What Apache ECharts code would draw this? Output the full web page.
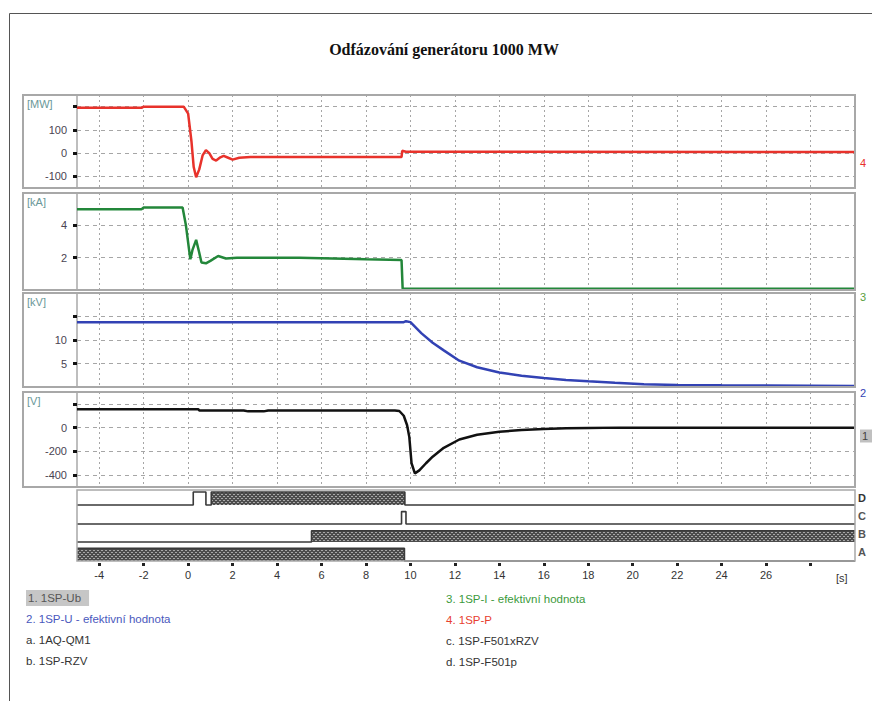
<!DOCTYPE html>
<html><head><meta charset="utf-8">
<script src="https://cdn.jsdelivr.net/npm/echarts@6/dist/echarts.min.js"></script>
<style>html,body{margin:0;padding:0;background:#fff}#c{width:872px;height:701px}</style>
</head><body><div id="c"></div><script>
// ---- axis ticks / labels ----
const xTicks = [-4,-2,0,2,4,6,8,10,12,14,16,18,20,22,24,26,28];
const xLabels = [-4,-2,0,2,4,6,8,10,12,14,16,18,20,22,24,26];
const mwTicks = [-100,0,100,200], mwLabels = [-100,0,100];
const kaTicks = [2,4], kaLabels = [2,4];
const kvTicks = [5,10,15], kvLabels = [5,10];
const vTicks = [-400,-200,0,200], vLabels = [-400,-200,0];

// ---- 4. 1SP-P [MW] ----
const pTime = [-5,-2.1,-2,-0.2,0.0,0.15,0.25,0.36,0.5,0.65,0.8,0.95,1.1,1.26,1.45,1.6,1.8,2.0,2.3,2.8,9.6,9.63,9.8,30];
const pVal  = [195,195,200,200,170,50,-60,-104,-70,-10,13,0,-25,-32,-18,-12,-20,-28,-20,-17,-17,10,6,5];
// ---- 3. 1SP-I [kA] ----
const iTime = [-5,-2.1,-2,-0.25,-0.1,0.05,0.1,0.2,0.36,0.5,0.6,0.8,1.0,1.35,1.7,2.2,5,8,9.6,9.65,30];
const iVal  = [5.0,5.0,5.1,5.1,4.0,2.4,1.9,2.5,3.1,2.3,1.7,1.65,1.8,2.1,1.95,2.0,2.0,1.9,1.85,0.08,0.08];
// ---- 2. 1SP-U [kV] ----
const uTime = [-5,9.7,9.8,10.0,10.5,11.0,11.5,12.2,13,14,15,16,17,18,19.2,20.5,22,24,26,28,30];
const uVal  = [13.8,13.8,14.0,13.8,11.4,9.4,7.8,5.6,4.2,3.1,2.4,1.9,1.5,1.2,0.9,0.6,0.45,0.35,0.3,0.25,0.2];
// ---- 1. 1SP-Ub [V] ----
const ubTime = [-5,0.45,0.5,2.5,2.7,3.4,3.6,9.3,9.5,9.7,9.85,9.95,10.05,10.2,10.4,10.7,11.0,11.5,12.2,13,14,15,16,17,18,19.4,30];
const ubVal  = [155,155,145,145,137,137,145,145,140,100,20,-80,-300,-385,-360,-300,-245,-170,-100,-60,-35,-20,-12,-6,-3,0,0];
// ---- digital channels (state, and where the state block is hatched) ----
const dTime = [-5,0.23,0.8,1.04,9.75,30], dVal = [0,1,0,1,0,0], dFill = [0,0,0,1,0,0];
const cTime = [-5,9.6,9.8,30], cVal = [0,1,0,0], cFill = [0,0,0,0];
const bTime = [-5,5.55,30], bVal = [0,1,1], bFill = [0,1,1];
const aTime = [-5,9.73,30], aVal = [1,0,0], aFill = [1,0,0];

const unitNames = ['[MW]','[kA]','[kV]','[V]'];
const digNames = ['D','C','B','A'];
const title = 'Odfázování generátoru 1000 MW';
const legendLeft = ['1. 1SP-Ub','2. 1SP-U - efektivní hodnota','a. 1AQ-QM1','b. 1SP-RZV'];
const legendRight = ['3. 1SP-I - efektivní hodnota','4. 1SP-P','c. 1SP-F501xRZV','d. 1SP-F501p'];

function pairs(t, v) { return t.map((x, i) => [x, v[i]]); }

// hatch pattern
const pc = document.createElement('canvas'); pc.width = 4; pc.height = 4;
const cx = pc.getContext('2d');
cx.fillStyle = '#4c4c4c'; cx.fillRect(0,0,4,4);
cx.fillStyle = '#a8a8a8'; cx.fillRect(0,0,1,1); cx.fillRect(2,2,1,1); cx.fillRect(3,0,1,1); cx.fillRect(1,2,1,1);
const hatch = { image: pc, repeat: 'repeat', imageWidth: 4, imageHeight: 4 };

const font = 'Liberation Sans, Arial, sans-serif';
const L = 77, R = 17;
const grids = [
  {left:L, right:R, top:95, height:93},
  {left:L, right:R, top:193, height:97},
  {left:L, right:R, top:293, height:94},
  {left:L, right:R, top:392, height:95},
  {left:L, right:R, top:490, height:15},
  {left:L, right:R, top:506, height:18},
  {left:L, right:R, top:524, height:18},
  {left:L, right:R, top:542, height:19}
];

function xa(i) {
  const o = {type:'value', gridIndex:i, min:-5, max:30,
    axisLine:{show:false, onZero:false}, axisLabel:{show:false},
    axisTick:{show:true, customValues:xTicks, length:0, lineStyle:{color:'rgba(0,0,0,0)', width:0}},
    splitLine:{show:i<4, lineStyle:{color:'#a6a6a6', type:[2,3], width:1}}};
  if (i === 7) {
    o.offset = 2;
    o.axisTick = {show:true, customValues:xTicks, length:3, lineStyle:{color:'#222', width:3}};
    o.axisLabel = {show:true, customValues:xLabels, fontSize:11, color:'#333', margin:6, fontFamily:font};
  }
  return o;
}
function ya(i, min, max, ticks, labels) {
  return {type:'value', gridIndex:i, min, max,
    axisLine:{show:true, onZero:false, lineStyle:{color:'#a8a8a8', width:1.5}},
    axisTick:{show:true, customValues:ticks, length:4, lineStyle:{color:'#111', width:3}},
    axisLabel:{customValues:labels, fontSize:11, color:'#4a4452', margin:10, fontFamily:font},
    splitLine:{show:true, lineStyle:{color:'#a6a6a6', type:[4,4], width:1}}};
}
function yd(i, max) {
  return {type:'value', gridIndex:i, min:0, max, show:false, axisLine:{onZero:false}, splitLine:{show:false}};
}

const analog = [
  {t:pTime, v:pVal, c:'#e8322b'},
  {t:iTime, v:iVal, c:'#23873a'},
  {t:uTime, v:uVal, c:'#3242b4'},
  {t:ubTime, v:ubVal, c:'#111111'}
];
const digital = [
  {t:dTime, v:dVal, f:dFill}, {t:cTime, v:cVal, f:cFill}, {t:bTime, v:bVal, f:bFill}, {t:aTime, v:aVal, f:aFill}
];

const series = [];
analog.forEach((s, i) => series.push({
  type:'line', xAxisIndex:i, yAxisIndex:i, data:pairs(s.t, s.v),
  symbol:'none', showSymbol:false, clip:false, z:5,
  lineStyle:{color:s.c, width:2.5}
}));
digital.forEach((s, i) => {
  series.push({
    type:'line', step:'end', xAxisIndex:4+i, yAxisIndex:4+i, data:pairs(s.t, s.f),
    symbol:'none', showSymbol:false, clip:false, z:2,
    lineStyle:{width:0, opacity:0},
    areaStyle:{color:hatch, origin:'start', opacity:1}
  });
  series.push({
    type:'line', step:'end', xAxisIndex:4+i, yAxisIndex:4+i, data:pairs(s.t, s.v),
    symbol:'none', showSymbol:false, clip:false, z:3,
    lineStyle:{color:'#3a3a3a', width:1.6}
  });
});

const graphic = [
  {type:'line', shape:{x1:9.5, y1:13.5, x2:872, y2:13.5}, style:{stroke:'#555', lineWidth:1}},
  {type:'line', shape:{x1:9.5, y1:13.5, x2:9.5, y2:701}, style:{stroke:'#555', lineWidth:1}},
  {type:'text', x:444, y:49, style:{text:title, align:'center', verticalAlign:'middle',
    font:'bold 16px "Liberation Serif", "DejaVu Serif", serif', fill:'#111'}}
];
grids.slice(0,4).forEach((g, i) => {
  graphic.push({type:'rect', z:100, shape:{x:23, y:g.top, width:832, height:g.height},
    style:{fill:'none', stroke:'#a8a8a8', lineWidth:2}});
  graphic.push({type:'text', z:100, x:27, y:g.top+9, style:{text:unitNames[i], verticalAlign:'middle',
    font:'11px ' + font, fill:'#6a9898'}});
});
graphic.push({type:'rect', z:100, shape:{x:77, y:490, width:778, height:71},
  style:{fill:'none', stroke:'#a8a8a8', lineWidth:1.5}});
// right side markers
const markers = [
  {t:'4', y:163, c:'#e8322b', bg:null},
  {t:'3', y:297, c:'#5aa040', bg:null},
  {t:'2', y:393, c:'#3242b4', bg:null},
  {t:'1', y:436, c:'#444', bg:'#c0c0c0'}
];
markers.forEach(m => graphic.push({type:'text', x:860, y:m.y, style:{text:m.t, verticalAlign:'middle',
  font:'11px ' + font, fill:m.c, backgroundColor:m.bg || 'transparent', padding: m.bg ? [1,4,1,2] : 0}}));
digNames.forEach((n, i) => graphic.push({type:'text', x:858, y:498 + i*18, style:{text:n, verticalAlign:'middle',
  font:'bold 11px ' + font, fill: i === 0 ? '#333' : '#555'}}));
graphic.push({type:'text', x:836, y:578, style:{text:'[s]', verticalAlign:'middle', font:'11px ' + font, fill:'#333'}});
// legend texts
const leftColors = ['#555', '#4a58bd', '#333', '#333'];
const rightColors = ['#3c9a3c', '#e8402f', '#333', '#333'];
legendLeft.forEach((t, i) => graphic.push({type:'text', x:26, y:598 + i*21, style:{text:t, verticalAlign:'middle',
  font:'11.5px ' + font, fill:leftColors[i], backgroundColor: i === 0 ? '#c6c6c6' : 'transparent',
  padding: i === 0 ? [2,8,2,2] : 0}}));
legendRight.forEach((t, i) => graphic.push({type:'text', x:446, y:599 + i*21, style:{text:t, verticalAlign:'middle',
  font:'11.5px ' + font, fill:rightColors[i]}}));

const chart = echarts.init(document.getElementById('c'), null, {renderer:'svg'});
chart.setOption({
  animation:false,
  backgroundColor:'#fff',
  grid:grids,
  xAxis:[0,1,2,3,4,5,6,7].map(xa),
  yAxis:[
    ya(0,-150,250,mwTicks,mwLabels),
    ya(1,0,6,kaTicks,kaLabels),
    ya(2,0,20,kvTicks,kvLabels),
    ya(3,-500,300,vTicks,vLabels),
    yd(4,1.15), yd(5,1.45), yd(6,1.6), yd(7,1.5)
  ],
  series,
  graphic
});
</script></body></html>
